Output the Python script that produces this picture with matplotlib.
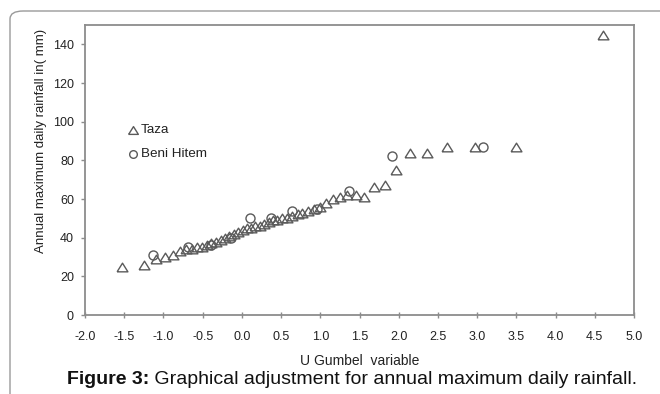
import matplotlib
matplotlib.use('Agg')
import matplotlib.pyplot as plt
from matplotlib import rcParams
from matplotlib.patches import FancyBboxPatch

rcParams['font.family'] = ['Liberation Sans', 'DejaVu Sans']

# Taza: Gumbel reduced variable and annual max daily rainfall (mm)
taza_u = [-1.53, -1.25, -1.10, -0.98, -0.88, -0.79, -0.71, -0.64, -0.57, -0.51,
          -0.45, -0.39, -0.33, -0.27, -0.21, -0.16, -0.10, -0.05, 0.01, 0.06,
          0.12, 0.17, 0.23, 0.28, 0.34, 0.40, 0.45, 0.51, 0.58, 0.64,
          0.71, 0.77, 0.84, 0.92, 0.99, 1.07, 1.16, 1.25, 1.34, 1.45,
          1.56, 1.68, 1.82, 1.97, 2.15, 2.36, 2.62, 2.97, 3.49, 4.60]
taza_mm = [25, 26, 29, 30, 31, 33, 34, 34, 35, 35,
           36, 37, 38, 39, 40, 41, 42, 43, 44, 45,
           45, 46, 46, 47, 48, 49, 49, 50, 50, 51,
           52, 53, 54, 55, 56, 58, 60, 61, 62, 62,
           61, 66, 67, 75, 84, 84, 87, 87, 87, 145]

# Beni Hitem
beni_u = [-1.13, -0.69, -0.39, -0.14, 0.11, 0.37, 0.64, 0.96, 1.36, 1.92, 3.07]
beni_mm = [31, 35, 36, 40, 50, 50, 54, 55, 64, 82, 87]

xticks = [-2.0, -1.5, -1.0, -0.5, 0.0, 0.5, 1.0, 1.5, 2.0, 2.5, 3.0, 3.5, 4.0, 4.5, 5.0]
yticks = [0, 20, 40, 60, 80, 100, 120, 140]

W, H = 660, 394
fig = plt.figure(figsize=(W / 100, H / 100), dpi=100)
ax = fig.add_axes([85 / W, 1 - 315 / H, (634 - 85) / W, (315 - 25) / H])

edge = '#5a5a5a'
tri = [(-1, -0.8), (1, -0.8), (0, 0.8), (-1, -0.8)]   # slightly flat triangle
ax.plot(taza_u, taza_mm, linestyle='none', marker=tri, markersize=7.8,
        markerfacecolor='none', markeredgecolor=edge, markeredgewidth=1.0)
ax.plot(beni_u, beni_mm, linestyle='none', marker='o', markersize=6.5,
        markerfacecolor='none', markeredgecolor=edge, markeredgewidth=1.0)

ax.set_xlim(-2, 5)
ax.set_ylim(0, 150)
ax.set_xticks(xticks)
ax.set_xticklabels(['%.1f' % v for v in xticks])
ax.set_yticks(yticks)
for s in ax.spines.values():
    s.set_color('#8c8c8c')
    s.set_linewidth(1.3)
ax.tick_params(axis='both', colors='#8c8c8c', labelcolor='#222222',
               labelsize=9, length=3, width=1)
ax.tick_params(axis='x', direction='inout', length=5, pad=9)
ax.tick_params(axis='y', direction='out', pad=5)

ax.set_xlabel('U Gumbel  variable', fontsize=10, color='#222222', labelpad=8)
ax.set_ylabel('Annual maximum daily rainfall in( mm)', fontsize=9.5,
              color='#222222')
ax.yaxis.set_label_coords(-0.069, 0.60)

# hand-made legend like the original spreadsheet chart
ax.plot([-1.39], [95.5], linestyle='none', marker=tri, markersize=7,
        markerfacecolor='none', markeredgecolor=edge)
ax.text(-1.29, 95.5, 'Taza', fontsize=9.7, va='center', color='#222222')
ax.plot([-1.39], [83.5], linestyle='none', marker='o', markersize=5.5,
        markerfacecolor='none', markeredgecolor=edge)
ax.text(-1.29, 83.5, 'Beni Hitem', fontsize=9.7, va='center', color='#222222')

# outer rounded frame of the figure panel
frame = FancyBboxPatch((10 / W, -0.2), 1.2, 1.2 - 11 / H,
                       boxstyle='round,pad=0,rounding_size=0.02',
                       transform=fig.transFigure, facecolor='none',
                       edgecolor='#9a9a9a', linewidth=1.0, clip_on=False)
fig.patches.append(frame)

cap = fig.text(67 / W, 1 - 384 / H, 'Figure 3:', fontsize=14,
               fontweight='bold', va='baseline', color='#111111')
ax.annotate(' Graphical adjustment for annual maximum daily rainfall.',
            xy=(1, 0), xycoords=cap, va='bottom', ha='left',
            fontsize=14, color='#111111', annotation_clip=False)

fig.savefig('out.png', dpi=100)
